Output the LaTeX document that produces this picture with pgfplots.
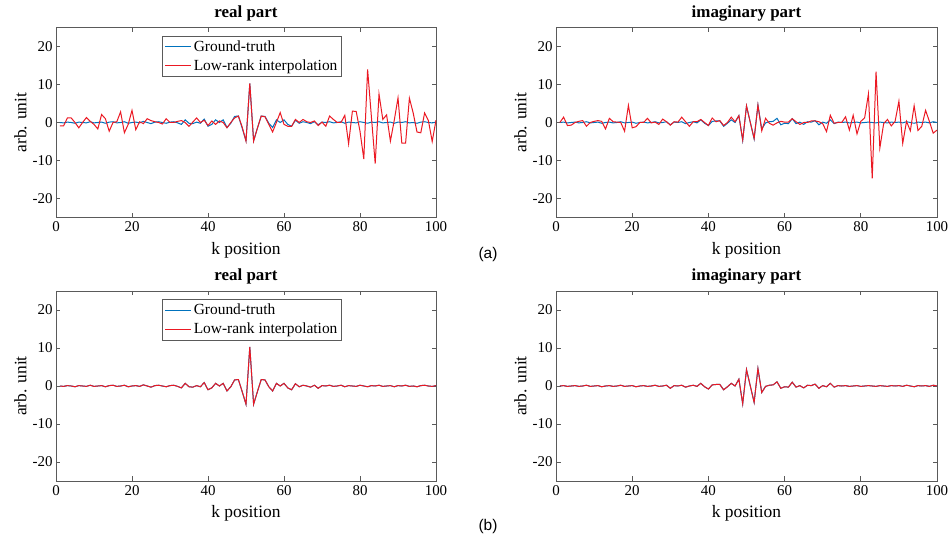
\documentclass[border=0pt]{standalone}
\usepackage{fontspec}
\setmainfont{Liberation Serif}
\newfontfamily\arialfont{Liberation Sans}
\usepackage{pgfplots}
\usepackage{pgfplotstable}
\pgfplotsset{compat=1.18}
\definecolor{mblue}{RGB}{0,114,189}
\definecolor{mred}{RGB}{235,25,35}
\definecolor{axgray}{RGB}{90,90,90}

\pgfplotstableread{
k tre rre tim rim
1 0.0 -0.9 0.0 0.0
2 -0.1 -0.9 0.1 1.4
3 0.1 1.2 -0.1 -0.8
4 0.0 1.2 0.0 -0.7
5 -0.2 0.0 0.1 0.0
6 0.1 -1.4 -0.1 0.3
7 0.0 0.0 0.0 0.5
8 -0.1 1.3 0.2 -1.0
9 0.2 0.3 -0.1 0.0
10 -0.1 -0.5 0.0 0.3
11 0.0 -1.7 0.1 0.5
12 0.1 2.1 -0.2 0.3
13 -0.2 1.0 0.0 -1.7
14 0.1 -2.3 0.1 1.1
15 0.2 0.0 -0.1 0.2
16 -0.1 0.2 0.0 0.1
17 0.0 2.8 0.2 0.0
18 0.2 -2.7 -0.1 -2.3
19 -0.2 -0.5 0.0 4.5
20 0.0 3.2 0.1 -1.4
21 0.1 -1.9 -0.2 -1.1
22 -0.1 0.2 0.0 0.0
23 0.3 -0.3 0.1 0.0
24 0.0 1.0 -0.1 1.1
25 -0.3 0.5 0.0 -0.1
26 0.1 0.2 0.2 0.1
27 0.2 0.0 -0.1 -0.5
28 0.0 -0.4 0.0 0.9
29 -0.2 1.0 0.2 0.2
30 0.1 0.0 -0.6 -0.7
31 0.2 0.0 0.1 0.2
32 -0.1 0.3 0.0 0.1
33 -0.5 0.5 0.2 1.4
34 0.7 0.0 -0.3 0.2
35 -0.2 -1.0 0.0 -1.0
36 -0.3 0.1 0.2 0.2
37 0.1 1.2 -0.1 0.2
38 -0.2 0.0 0.7 0.8
39 0.9 0.6 -0.2 0.0
40 -1.0 -0.8 -0.8 -0.8
41 -0.5 0.4 0.3 1.2
42 0.7 -0.5 0.4 0.2
43 0.0 0.4 0.4 0.5
44 0.7 0.0 -1.0 -0.8
45 -1.3 -1.4 -0.2 0.0
46 -0.2 0.0 0.7 1.4
47 1.6 1.2 0.0 0.2
48 1.7 1.7 1.8 1.8
49 -1.5 -1.2 -4.7 -4.6
50 -4.8 -4.9 4.3 4.4
51 10.3 10.3 0.0 0.0
52 -4.8 -4.9 -4.3 -4.2
53 -1.5 -1.5 4.6 4.6
54 1.7 1.7 -1.7 -2.2
55 1.6 1.5 -0.1 1.1
56 -0.2 -0.5 0.2 -0.2
57 -1.3 -2.5 0.3 -0.7
58 0.7 0.0 1.1 -0.1
59 0.0 2.6 -0.6 0.3
60 0.7 -0.5 -0.2 0.1
61 -0.5 -1.0 -0.3 0.1
62 -1.0 -1.0 1.0 1.0
63 0.6 0.8 -0.3 0.2
64 -0.2 0.0 0.1 -0.5
65 0.2 0.8 -0.5 0.0
66 0.0 0.2 0.2 0.0
67 -0.3 0.0 0.1 0.4
68 0.2 0.4 0.5 0.4
69 -0.6 -0.8 -0.6 0.2
70 0.1 0.1 0.1 -0.3
71 0.0 -1.0 -0.2 -2.4
72 0.2 1.7 0.7 1.9
73 -0.1 0.8 -0.3 -0.2
74 0.0 0.0 0.1 0.0
75 0.2 0.0 0.0 0.0
76 -0.2 1.9 0.1 1.5
77 0.1 -5.6 -0.1 -2.0
78 0.0 3.0 0.0 1.9
79 -0.1 2.9 0.1 -3.0
80 0.2 -2.3 -0.1 0.3
81 0.0 -9.6 0.0 1.2
82 -0.2 14.0 0.1 7.5
83 0.1 1.5 0.0 -14.7
84 0.0 -10.8 -0.1 13.4
85 0.2 7.5 0.1 -6.7
86 -0.1 0.8 0.0 -0.3
87 0.0 2.0 -0.1 0.8
88 0.1 -4.9 0.1 -0.9
89 -0.2 0.5 0.0 0.3
90 0.1 6.5 0.1 5.6
91 0.0 -5.4 -0.1 -5.5
92 0.2 -5.4 0.2 0.3
93 -0.1 6.4 0.0 -2.2
94 0.0 2.5 -0.2 4.4
95 -0.2 -2.5 0.1 -2.1
96 0.1 -2.7 0.0 -1.0
97 0.2 2.5 0.1 3.2
98 0.0 0.5 -0.1 0.3
99 -0.1 -5.0 0.2 -2.8
100 0.1 0.6 0.0 -2.0
}\datatab

\pgfplotsset{
  mystyle/.style={
    scale only axis, width=380bp, height=190bp,
    anchor=south west,
    xmin=0, xmax=100, ymin=-25, ymax=25,
    xtick={0,20,...,100}, ytick={-20,-10,0,10,20},
    tick align=inside, major tick length=4.5bp,
    axis line style={draw=axgray, line width=0.8bp},
    every tick/.style={axgray, line width=0.8bp},
    tick label style={font=\fontsize{15}{15}\selectfont},
    xticklabel style={yshift=-1bp},
    /pgf/number format/assume math mode=true,
    label style={font=\fontsize{17.5}{17.5}\selectfont},
    title style={font=\bfseries\fontsize{17}{17}\selectfont, yshift=-3bp},
    xlabel={k position}, ylabel={arb. unit},
    xlabel style={yshift=-3bp},
    ylabel style={yshift=-1bp},
    legend style={draw=axgray, fill=white, line width=0.8bp,
      font=\fontsize{15.5}{15.5}\selectfont,
      at={(0.28,0.957)}, anchor=north west,
      inner xsep=2bp, inner ysep=2.5bp, row sep=3bp},
    legend cell align=left,
    legend image code/.code={\draw[#1, line width=1bp] (0bp,0bp) -- (26bp,0bp);},
    every axis plot/.append style={line width=1bp},
  }
}

\begin{document}
\begin{tikzpicture}
\path[use as bounding box] (0bp,0bp) rectangle (951bp,542bp);

\begin{axis}[mystyle, at={(56bp,324.5bp)}, title={real part}]
\addplot[mblue] table[x=k,y=tre] {\datatab};
\addlegendentry{Ground-truth}
\addplot[mred] table[x=k,y=rre] {\datatab};
\addlegendentry{Low-rank interpolation}
\end{axis}

\begin{axis}[mystyle, at={(556bp,324.5bp)}, width=381bp, title={imaginary part}]
\addplot[mblue] table[x=k,y=tim] {\datatab};
\addplot[mred] table[x=k,y=rim] {\datatab};
\end{axis}

\begin{axis}[mystyle, at={(56bp,61bp)}, title={real part}]
\addplot[mblue] table[x=k,y=tre] {\datatab};
\addlegendentry{Ground-truth}
\addplot[mred] table[x=k,y=tre] {\datatab};
\addlegendentry{Low-rank interpolation}
\end{axis}

\begin{axis}[mystyle, at={(556bp,61bp)}, width=381bp, title={imaginary part}]
\addplot[mblue] table[x=k,y=tim] {\datatab};
\addplot[mred] table[x=k,y=tim] {\datatab};
\end{axis}

\node[font=\arialfont\fontsize{15.5}{15.5}\selectfont] at (488bp,287bp) {(a)};
\node[font=\arialfont\fontsize{15.5}{15.5}\selectfont] at (488bp,15bp) {(b)};
\end{tikzpicture}
\end{document}
